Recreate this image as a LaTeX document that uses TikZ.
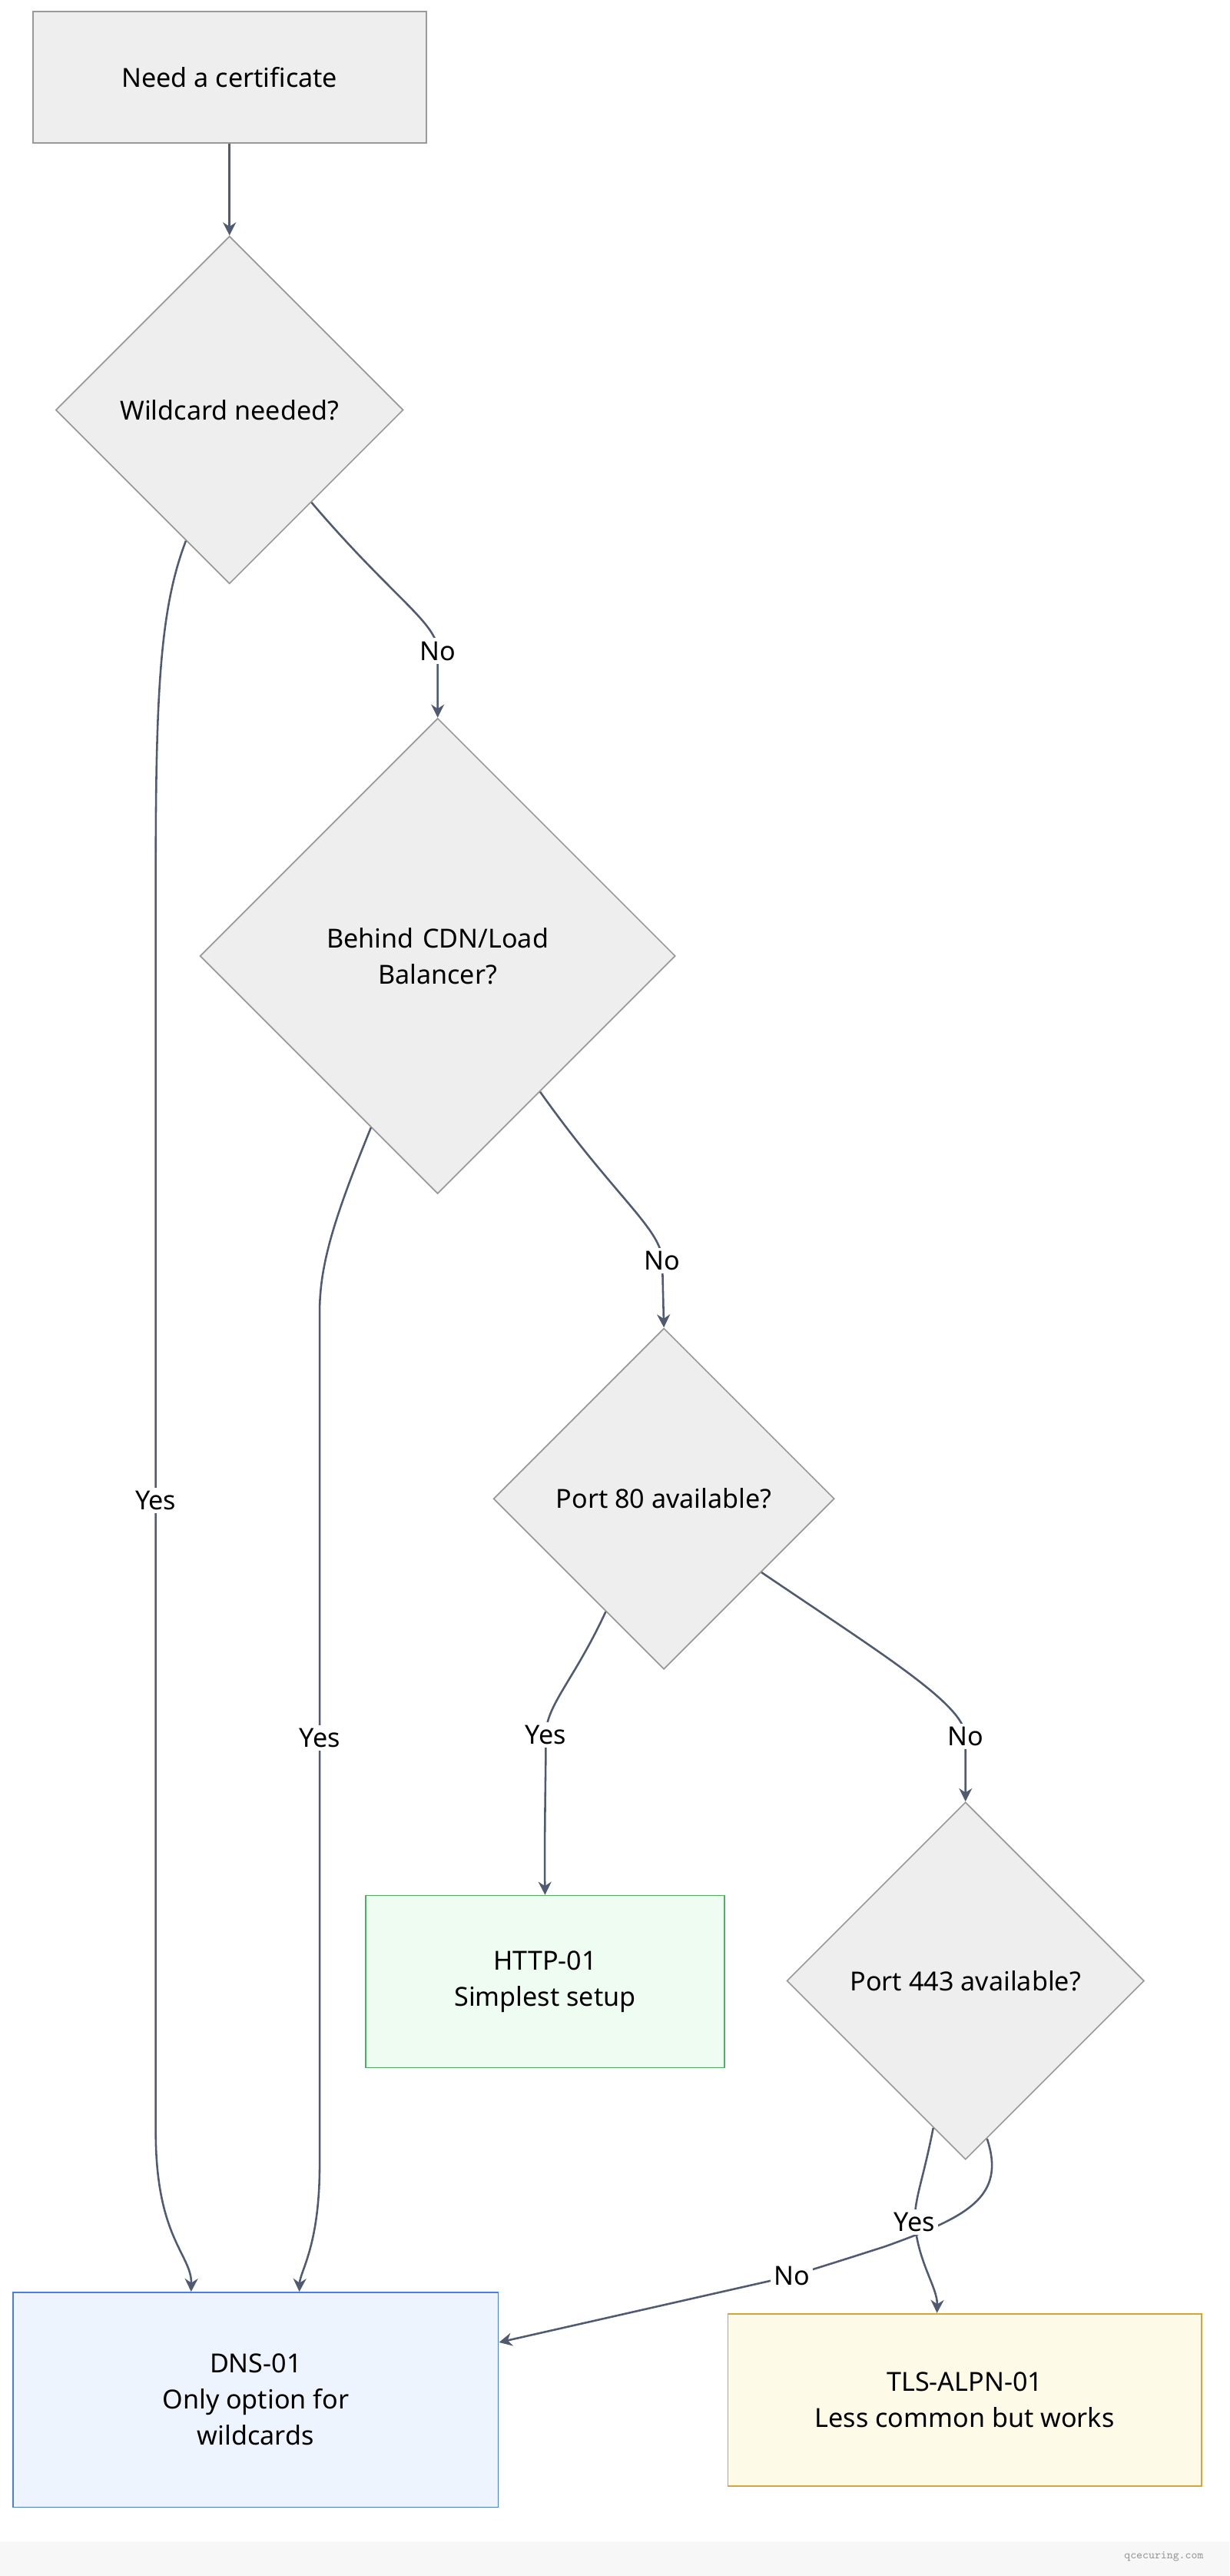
\documentclass[tikz,border=0pt]{standalone}
\usepackage{fontspec}
\setmainfont{Noto Sans}
\usetikzlibrary{shapes.geometric,arrows.meta,calc}
\definecolor{boxgray}{HTML}{EEEEEE}
\definecolor{linegray}{HTML}{999999}
\definecolor{edgecol}{HTML}{505A70}
\definecolor{httpfill}{HTML}{EFFCF2}
\definecolor{httpline}{HTML}{4CAF62}
\definecolor{dnsfill}{HTML}{EEF4FD}
\definecolor{dnsline}{HTML}{4A7FE0}
\definecolor{tlsfill}{HTML}{FEFAE8}
\definecolor{tlsline}{HTML}{D4A53A}
\tikzset{
  every node/.style={font=\fontsize{8}{11}\selectfont},
  box/.style={draw=linegray, fill=boxgray, rectangle, inner sep=0pt, align=center},
  decision/.style={draw=linegray, fill=boxgray, diamond, aspect=1, inner sep=1pt, align=center},
  lbl/.style={fill=white, inner sep=1pt},
  flow/.style={draw=edgecol, semithick, -{Stealth[length=4pt,width=4pt]}},
}
\begin{document}
\begin{tikzpicture}[x=0.5pt, y=-0.5pt]
    \useasboundingbox (0,0) rectangle (750,1571);
    \fill[black!3] (0,1550) rectangle (750,1571);
    \node[text=black!40, font=\ttfamily\fontsize{3.5}{4}\selectfont] (mark) at (710,1559) {qcecuring.com};

    \node[box, minimum width=120pt, minimum height=40pt] (start) at (140,47) {Need a certificate};
    \node[decision, minimum size=106pt] (wild) at (140,250) {Wildcard needed?};
    \node[decision, minimum size=145pt, text width=70pt] (cdn) at (267,583) {Behind CDN/Load\\Balancer?};
    \node[decision, minimum size=104pt] (port80) at (405,914) {Port 80 available?};
    \node[decision, minimum size=109pt] (port443) at (589,1208) {Port 443 available?};
    \node[box, fill=httpfill, draw=httpline, minimum width=109.5pt, minimum height=52.5pt] (http) at (332.5,1208.5) {HTTP-01\\Simplest setup};
    \node[box, fill=dnsfill, draw=dnsline, minimum width=148pt, minimum height=65.5pt] (dns) at (156,1463.5) {DNS-01\\Only option for\\wildcards};
    \node[box, fill=tlsfill, draw=tlsline, minimum width=144.5pt, minimum height=52.5pt] (tls) at (588.5,1463.5) {TLS-ALPN-01\\Less common but works};

    \draw[flow] (start) -- (wild);
    \draw[flow] ($(wild.south)!.47!(wild.east)$) .. controls (240,365) and (267,380) .. (267,397) node[lbl] {No} -- (cdn.north);
    \draw[flow] ($(wild.south)!.25!(wild.west)$) .. controls (98,370) and (95,420) .. (95,530)
        -- node[lbl] {Yes} (95,1300) .. controls (95,1365) and (117,1375) .. ([xshift=54.5pt]dns.north west);
    \draw[flow] ($(cdn.south)!.28!(cdn.west)$) .. controls (205,740) and (195,770) .. (195,800)
        -- node[lbl] {Yes} (195,1320) .. controls (195,1370) and (183,1385) .. ([xshift=87.5pt]dns.north west);
    \draw[flow] ($(cdn.south)!.43!(cdn.east)$) .. controls (375,730) and (404,750) .. (404,769) node[lbl] {No} -- (port80.north);
    \draw[flow] ($(port80.south)!.34!(port80.west)$) .. controls (350,1025) and (333,1040) .. (333,1058) node[lbl] {Yes}
        .. controls (333,1080) and (332,1120) .. (http.north);
    \draw[flow] ($(port80.south)!.57!(port80.east)$) .. controls (540,1010) and (589,1040) .. (589,1059) node[lbl] {No} -- (port443.north);
    \draw[flow] ($(port443.south)!.12!(port443.east)$) .. controls (614,1340) and (590,1352) .. (540,1370)
        .. controls (515,1378) .. (483,1388) node[lbl] {No} -- ([yshift=17.5pt]dns.east);
    \draw[flow] ($(port443.south)!.18!(port443.west)$) .. controls (563,1330) and (558,1340) .. (558,1355) node[lbl] {Yes}
        .. controls (560,1380) and (572,1395) .. ([xshift=64pt]tls.north west);
\end{tikzpicture}
\end{document}
